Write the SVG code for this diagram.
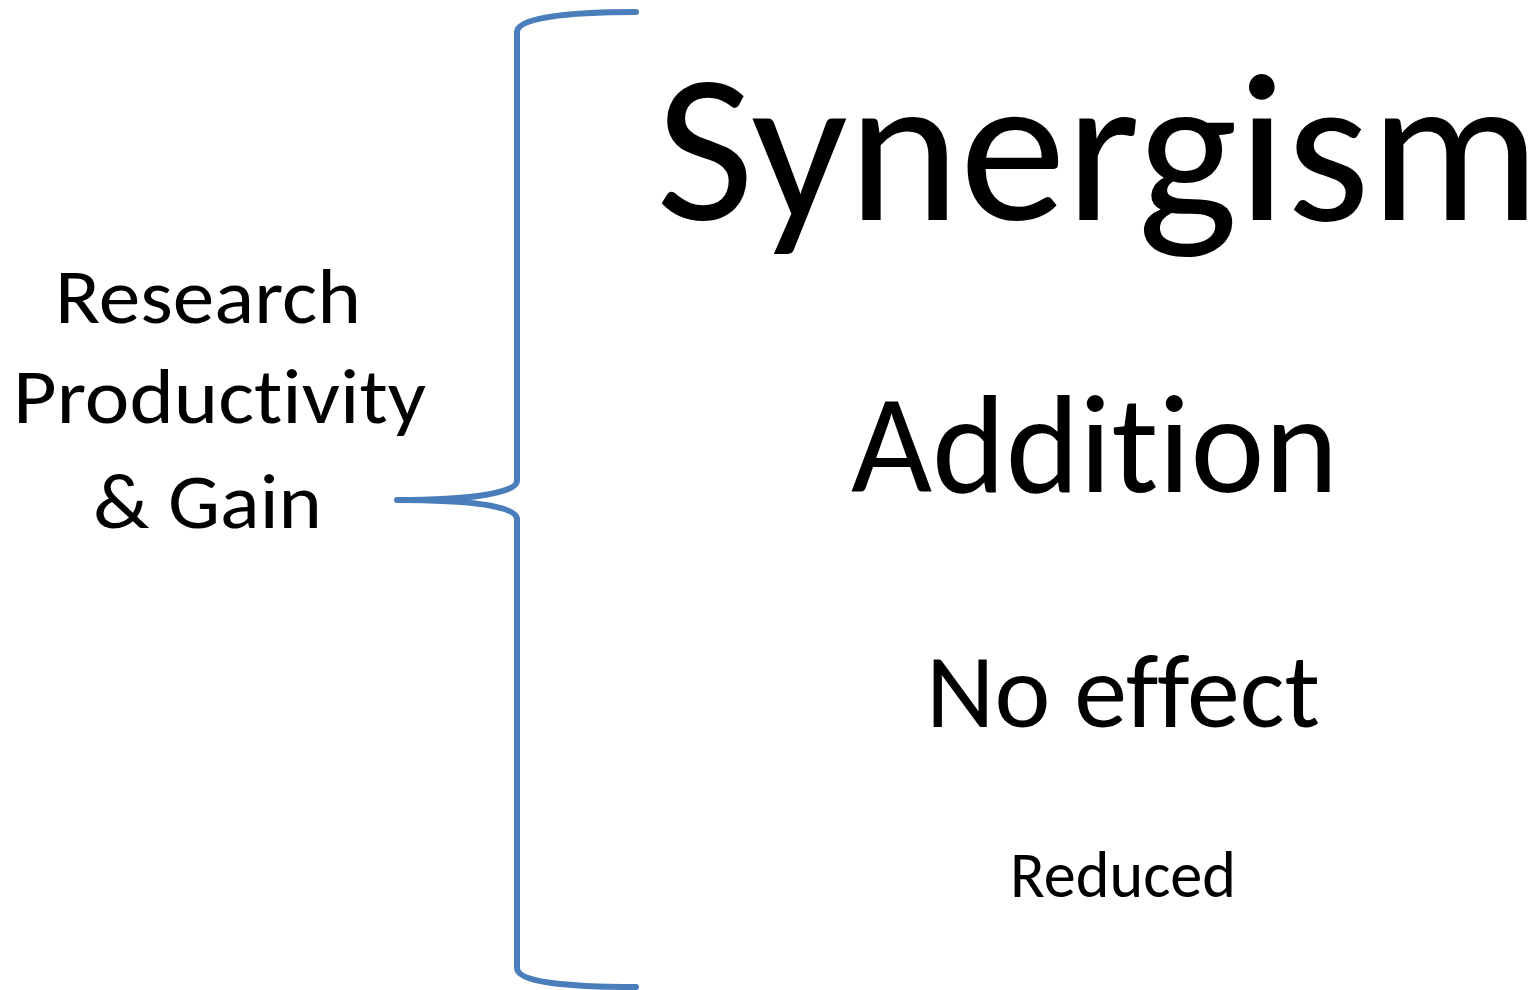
<svg xmlns="http://www.w3.org/2000/svg" width="1537" height="990" viewBox="0 0 1537 990">
<style>
text{font-family:Calibri,Carlito,"Open Sans","Noto Sans",sans-serif;fill:#000;font-variant-ligatures:none;font-feature-settings:"liga" 0,"clig" 0}
.brace{fill:none;stroke:#4a7ebb;stroke-width:6;stroke-linecap:round;stroke-linejoin:round}
</style>
<rect width="1537" height="990" fill="#fff"/>
<g id="connectors">
<path class="brace" d="M636,12 C565,12 517,18 517,32 L517,481 C517,493 470,500 397,500 C470,500 517,506 517,519 L517,968 C517,982 565,987 636,987"/>
</g>
<g id="label-left">
<text x="55" y="323" font-size="78" textLength="306" lengthAdjust="spacingAndGlyphs">Research</text>
<text x="13" y="423" font-size="78" textLength="413" lengthAdjust="spacingAndGlyphs">Productivity</text>
<text x="93" y="528" font-size="78" textLength="229" lengthAdjust="spacingAndGlyphs">&amp; Gain</text>
</g>
<g id="synergism"><text x="656" y="220" font-size="213" textLength="884" lengthAdjust="spacingAndGlyphs">Synergism</text></g>
<g id="addition"><text x="851" y="492" font-size="140" textLength="487" lengthAdjust="spacingAndGlyphs">Addition</text></g>
<g id="no-effect"><text x="926" y="727" font-size="104" textLength="394" lengthAdjust="spacingAndGlyphs">No effect</text></g>
<g id="reduced"><text x="1010" y="897" font-size="65" textLength="226" lengthAdjust="spacingAndGlyphs">Reduced</text></g>
</svg>
